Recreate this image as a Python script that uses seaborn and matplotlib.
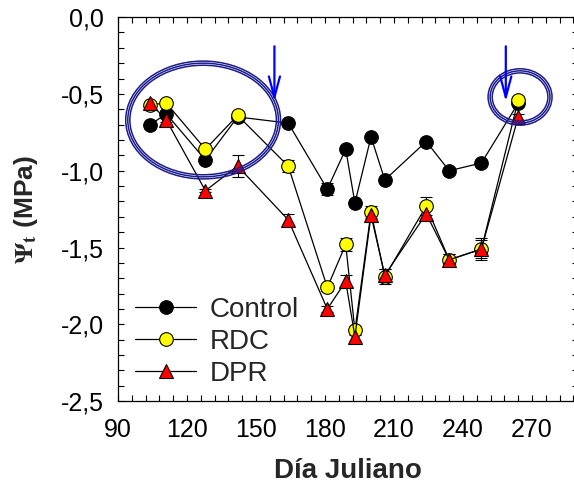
import matplotlib
matplotlib.use("Agg")
import matplotlib.pyplot as plt
from matplotlib.patches import Ellipse
from matplotlib.ticker import MultipleLocator, FuncFormatter
import seaborn as sns
import pandas as pd

# Data
dias = [104, 111, 128, 142, 164, 181, 189, 193, 200, 206, 224, 234, 248, 264]
control = [-0.70, -0.63, -0.93, -0.65, -0.69, -1.12, -0.86, -1.21, -0.78, -1.06, -0.81, -1.00, -0.95, -0.56]
rdc = [-0.57, -0.56, -0.86, -0.64, -0.97, -1.76, -1.48, -2.04, -1.27, -1.69, -1.23, -1.58, -1.51, -0.54]
dpr = [-0.56, -0.67, -1.13, -0.97, -1.32, -1.90, -1.72, -2.08, -1.29, -1.68, -1.28, -1.58, -1.51, -0.65]
control_err = [0.01, 0.01, 0.01, 0.01, 0.01, 0.04, 0.01, 0.01, 0.01, 0.01, 0.01, 0.01, 0.01, 0.02]
rdc_err = [0.01, 0.01, 0.01, 0.01, 0.04, 0.02, 0.04, 0.03, 0.04, 0.05, 0.06, 0.04, 0.07, 0.02]
dpr_err = [0.01, 0.01, 0.01, 0.07, 0.04, 0.02, 0.04, 0.03, 0.03, 0.04, 0.04, 0.04, 0.06, 0.02]

df = pd.DataFrame({"dia": dias, "Control": control, "RDC": rdc, "DPR": dpr})

sns.set_theme(style="ticks")
plt.rcParams['font.family'] = ['Liberation Sans', 'DejaVu Sans']
plt.rcParams['mathtext.fontset'] = 'stix'

fig = plt.figure(figsize=(5.74, 4.88), dpi=100)
ax = fig.add_axes([0.2056, 0.178, 0.8014, 0.787])

series = [
    ("Control", control_err, "o", "black"),
    ("RDC", rdc_err, "o", "yellow"),
    ("DPR", dpr_err, "^", "red"),
]

for name, err, mk, fc in series:
    ax.errorbar(df["dia"], df[name], yerr=err, fmt="none", ecolor="black",
                elinewidth=0.8, capsize=4, capthick=0.8, zorder=2)
    sns.lineplot(data=df, x="dia", y=name, ax=ax, color="black", lw=0.9,
                 marker=mk, markersize=9.8 if mk == "o" else 10,
                 markerfacecolor=fc, markeredgecolor="black", markeredgewidth=0.8,
                 label=name, zorder=3)

# Circled groups
for cx, cy, w, h in [(127, -0.67, 65.5, 0.74), (264.8, -0.52, 26.0, 0.34)]:
    for k in (-1, 0, 1):
        ax.add_patch(Ellipse((cx, cy), w + k * 1.8, h + k * 0.027, fill=False,
                             edgecolor="#1c1c8c", lw=1.1, zorder=5))

# Arrows
for ax_x in (158, 258.6):
    ax.annotate("", xy=(ax_x, -0.55), xytext=(ax_x, -0.19),
                arrowprops=dict(arrowstyle="->, head_length=0.75, head_width=0.2",
                                color="blue", lw=1.6, mutation_scale=20,
                                shrinkA=0, shrinkB=0),
                zorder=6)

ax.set_xlim(90, 290)
ax.set_ylim(-2.5, 0.0)
ax.xaxis.set_major_locator(MultipleLocator(30))
ax.xaxis.set_minor_locator(MultipleLocator(6))
ax.yaxis.set_major_locator(MultipleLocator(0.5))
ax.yaxis.set_minor_locator(MultipleLocator(0.1))
ax.yaxis.set_major_formatter(FuncFormatter(lambda v, p: f"{v:.1f}".replace(".", ",").replace("-0,0", "0,0")))
ax.tick_params(which="both", direction="in", top=True, right=True, width=0.8,
               labelsize=18, colors="black")
ax.tick_params(which="both", length=4)
ax.tick_params(axis="x", pad=12.5)
ax.tick_params(axis="y", pad=10)
for s in ax.spines.values():
    s.set_linewidth(0.9)
    s.set_color("black")

ax.set_xlabel("Día Juliano", fontsize=20, fontweight="bold", labelpad=11)
ax.set_ylabel(r"$\mathbf{\Psi}_{\mathbf{t}}$ (MPa)", fontsize=19, fontweight="bold")
ax.yaxis.set_label_coords(-0.17, 0.5)

ax.legend(loc="upper left", bbox_to_anchor=(0.037, 0.272), frameon=False,
          fontsize=20, handlelength=2.2, handletextpad=0.5, labelspacing=0.22,
          borderpad=0, borderaxespad=0)

fig.savefig("out.png", dpi=100, facecolor="white")
